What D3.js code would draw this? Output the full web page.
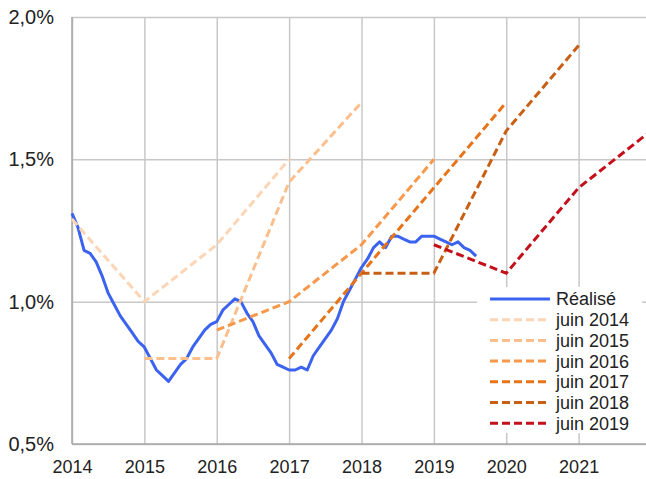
<!DOCTYPE html>
<html>
<head>
<meta charset="utf-8">
<script src="https://cdn.jsdelivr.net/npm/d3@7"></script>
<style>
  body { margin: 0; background: #fff; }
  svg { display: block; font-family: "Liberation Sans", Arial, sans-serif; }
</style>
</head>
<body>
<svg id="chart"></svg>
<script>
let svgWidth = 646, svgHeight = 479

// inflation réalisée, mensuelle depuis janvier 2014
const realStart = 2014
const realise = [1.31, 1.26, 1.18, 1.17, 1.14, 1.09, 1.03, 0.99, 0.95, 0.92, 0.89, 0.86,
  0.84, 0.80, 0.76, 0.74, 0.72, 0.75, 0.78, 0.80, 0.84, 0.87, 0.90, 0.92,
  0.93, 0.97, 0.99, 1.01, 1.00, 0.96, 0.93, 0.88, 0.85, 0.82, 0.78, 0.77,
  0.76, 0.76, 0.77, 0.76, 0.81, 0.84, 0.87, 0.90, 0.94, 1.00, 1.04, 1.08,
  1.12, 1.15, 1.19, 1.21, 1.19, 1.23, 1.23, 1.22, 1.21, 1.21, 1.23, 1.23,
  1.23, 1.22, 1.21, 1.20, 1.21, 1.19, 1.18, 1.16]

// prévisions successives
const forecastLabels = ['juin 2014', 'juin 2015', 'juin 2016', 'juin 2017', 'juin 2018', 'juin 2019']
const forecastYears = [
  [2014, 2015, 2016, 2017],
  [2015, 2016, 2017, 2018],
  [2016, 2017, 2018, 2019],
  [2017, 2018, 2019, 2020],
  [2018, 2019, 2020, 2021],
  [2019, 2020, 2021, 2022]
]
const forecastValues = [
  [1.29, 1.0, 1.2, 1.5],
  [0.8, 0.8, 1.42, 1.7],
  [0.9, 1.0, 1.2, 1.5],
  [0.8, 1.1, 1.4, 1.7],
  [1.1, 1.1, 1.6, 1.9],
  [1.2, 1.1, 1.4, 1.6]
]
const forecastColors = ['#fcd5b5', '#fbbf8e', '#f7984a', '#e8741a', '#c95f14', '#c4101a']

const xTicks = [2014, 2015, 2016, 2017, 2018, 2019, 2020, 2021]
const yTicks = [0.5, 1.0, 1.5, 2.0]

let svg = d3.select('#chart').attr('width', svgWidth).attr('height', svgHeight)

let x = d3.scaleLinear().domain([2014, 2022]).range([72, 651])
let y = d3.scaleLinear().domain([0.5, 2.0]).range([444, 17])

const fr = d3.formatLocale({ decimal: ',', thousands: ' ', grouping: [3], currency: ['', ' €'] })
const pct = v => fr.format('.1f')(v) + '%'

// grille verticale
let gx = svg.append('g').attr('transform', `translate(0,${y(0.5)})`)
  .call(d3.axisBottom(x).tickValues(xTicks).tickSize(-(y(0.5) - y(2.0))).tickFormat(d3.format('d')))
gx.select('.domain').remove()
gx.selectAll('line').attr('stroke', '#c8c8c8').attr('stroke-width', 1.5)
gx.selectAll('text').attr('fill', '#222').attr('font-size', 18)
  .attr('font-family', '"Liberation Sans", Arial, sans-serif').attr('dy', null).attr('y', 29)

// grille horizontale
let gy = svg.append('g').attr('transform', `translate(${x(2014)},0)`)
  .call(d3.axisLeft(y).tickValues(yTicks).tickSize(-(svgWidth - x(2014))).tickPadding(18).tickFormat(pct))
gy.select('.domain').remove()
gy.selectAll('line').attr('stroke', '#c8c8c8').attr('stroke-width', 1.5)
gy.selectAll('text').attr('fill', '#222').attr('font-size', 20)
  .attr('font-family', '"Liberation Sans", Arial, sans-serif')

// axes
svg.append('line').attr('x1', x(2014)).attr('x2', x(2014)).attr('y1', y(2.0)).attr('y2', y(0.5))
  .attr('stroke', '#a6a6a6').attr('stroke-width', 1.5)
svg.append('line').attr('x1', x(2014)).attr('x2', svgWidth).attr('y1', y(0.5)).attr('y2', y(0.5))
  .attr('stroke', '#a6a6a6').attr('stroke-width', 1.5)

let line = d3.line().x(d => x(d[0])).y(d => y(d[1]))

// réalisé
svg.append('path')
  .datum(realise.map((v, i) => [realStart + i / 12, v]))
  .attr('d', line)
  .attr('fill', 'none').attr('stroke', '#3b63f0').attr('stroke-width', 3)
  .attr('stroke-linejoin', 'round')

// prévisions
forecastValues.forEach((vals, k) => {
  svg.append('path')
    .datum(vals.map((v, i) => [forecastYears[k][i], v]))
    .attr('d', line)
    .attr('fill', 'none').attr('stroke', forecastColors[k]).attr('stroke-width', 3)
    .attr('stroke-dasharray', '8,4')
})

// légende
let legend = svg.append('g')
legend.append('rect').attr('x', 477).attr('y', 287).attr('width', 165).attr('height', 146).attr('fill', '#fff')
const legendItems = ['Réalisé'].concat(forecastLabels)
const legendColors = ['#3b63f0'].concat(forecastColors)
legendItems.forEach((lab, i) => {
  let ly = 299 + i * 20.7
  legend.append('line').attr('x1', 490).attr('x2', 550).attr('y1', ly).attr('y2', ly)
    .attr('stroke', legendColors[i]).attr('stroke-width', 3)
    .attr('stroke-dasharray', i == 0 ? null : '8,4')
  legend.append('text').attr('x', 556).attr('y', ly).attr('dy', '0.36em')
    .attr('font-size', 18).attr('fill', '#222').text(lab)
})
</script>
</body>
</html>
